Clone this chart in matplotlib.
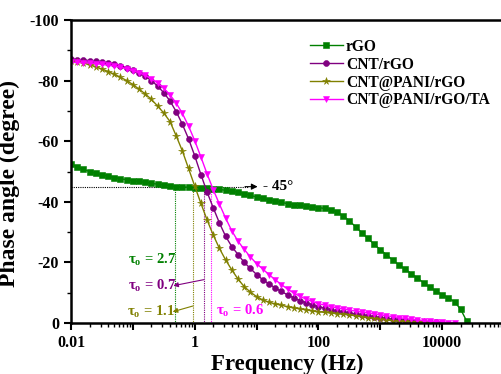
import numpy as np
import matplotlib
matplotlib.use("Agg")
import matplotlib.pyplot as plt
from matplotlib.ticker import LogLocator, FixedLocator, MultipleLocator, NullFormatter, FuncFormatter

plt.rcParams['font.family'] = ['Liberation Serif', 'DejaVu Serif']
plt.rcParams['font.weight'] = 'bold'
plt.rcParams['mathtext.fontset'] = 'custom'
plt.rcParams['mathtext.rm'] = 'Liberation Serif:bold'
plt.rcParams['mathtext.bf'] = 'Liberation Serif:bold'

# frequency sweep (Hz), 10 points per decade starting at 0.01 Hz
freq = np.logspace(-2, 4.4, 65)

rgo = [52.5, 51.5, 50.7, 50.0, 49.4, 48.9, 48.4, 48.0, 47.6, 47.3,
       47.0, 46.7, 46.4, 46.1, 45.8, 45.6, 45.3, 45.0, 44.9, 44.8,
       44.7, 44.6, 44.5, 44.3, 44.1, 43.8, 43.5, 43.1, 42.6, 42.1,
       41.6, 41.1, 40.6, 40.2, 39.8, 39.4, 39.1, 38.8, 38.5, 38.3,
       38.1, 37.8, 37.4, 36.6, 35.4, 33.7, 31.8, 29.8, 27.9, 26.0,
       24.2, 22.5, 20.8, 19.2, 17.8, 16.3, 14.8, 13.3, 11.8, 10.5,
       9.4, 8.3, 7.0, 4.5, 0.5]
cnt_rgo = [87.0, 86.9, 86.8, 86.6, 86.4, 86.1, 85.8, 85.4, 84.9, 84.3,
           83.5, 82.6, 81.4, 80.0, 78.2, 76.0, 73.3, 69.8, 65.6, 60.8,
           55.2, 49.0, 43.2, 38.0, 33.0, 28.6, 25.2, 22.6, 20.0, 18.0,
           16.0, 14.3, 12.9, 11.6, 10.4, 9.3, 8.3, 7.4, 6.7, 6.0,
           5.4, 4.9, 4.4, 4.0, 3.6, 3.3, 3.0, 2.7, 2.4, 2.1,
           1.8, 1.5, 1.3, 1.1, 0.9, 0.7, 0.5, 0.4, 0.3, 0.2, 0.1]
cnt_pani = [86.5, 86.2, 85.8, 85.3, 84.6, 83.8, 83.0, 82.1, 81.1, 80.0,
            78.7, 77.2, 75.6, 73.8, 71.6, 69.3, 66.5, 61.8, 56.8, 51.0,
            45.2, 39.5, 34.0, 29.0, 24.6, 20.8, 17.5, 14.5, 12.0, 10.2,
            8.7, 7.6, 6.9, 6.3, 5.9, 5.4, 5.0, 4.7, 4.4, 4.0,
            3.7, 3.5, 3.3, 3.1, 2.9, 2.7, 2.4, 2.1, 1.8, 1.5,
            1.2, 1.0, 0.8, 0.6, 0.5, 0.4, 0.3, 0.2, 0.1]
cnt_pani_ta = [86.0, 86.0, 85.9, 85.8, 85.6, 85.4, 85.1, 84.8, 84.4, 83.9,
               83.3, 82.6, 81.7, 80.6, 79.2, 77.5, 75.3, 72.6, 69.2, 65.0,
               60.2, 54.8, 49.2, 44.0, 39.2, 34.6, 30.4, 27.0, 24.3, 21.8,
               19.6, 17.8, 16.0, 14.3, 12.7, 11.2, 9.9, 8.8, 7.9, 7.1,
               6.4, 5.9, 5.4, 5.0, 4.6, 4.3, 3.9, 3.6, 3.3, 3.0,
               2.7, 2.4, 2.1, 1.8, 1.5, 1.2, 1.0, 0.8, 0.6, 0.4,
               0.3, 0.15, 0.05]

labels = ['rGO', 'CNT/rGO', 'CNT@PANI/rGO', 'CNT@PANI/rGO/TA']
colors = ['#008000', '#800080', '#808000', '#FF00FF']
markers = ['s', 'o', '*', 'v']
msizes = [3.8, 4.3, 5.5, 4.5]
series = [rgo, cnt_rgo, cnt_pani, cnt_pani_ta]

# -45 degree crossing frequencies (Hz) and time constants
cross_freq = [0.48, 1.4, 0.93, 1.86]
tau_text = ['2.7', '0.7', '1.1', '0.6']

fig = plt.figure(figsize=(5.02, 3.74), dpi=100)
ax = fig.add_axes([71/502, 51/374, 433/502, 303/374])

for vals, lab, c, m, ms in zip(series, labels, colors, markers, msizes):
    v = -np.array(vals)
    ax.plot(freq[:len(v)], v, color=c, marker=m, ms=ms, lw=1.0, label=lab,
            markeredgewidth=0.4, clip_on=True)

# dotted guide lines
ax.plot([0.01, 7.2], [-45, -45], ls=(0, (1, 1)), color='black', lw=0.8, zorder=1)
ax.annotate('', xy=(10.4, -45), xytext=(6.5, -45),
            arrowprops=dict(arrowstyle='-|>', color='black', lw=0.8,
                            mutation_scale=9, shrinkA=0, shrinkB=0))
ax.text(12.6, -45, '- 45°', fontsize=11, fontweight='bold', va='center', ha='left')

for f, c in zip(cross_freq, colors):
    ax.plot([f, f], [-45, 0], ls=(0, (1, 1)), color=c, lw=0.8, zorder=1)

tau_lbl = 'τ$_\\mathregular{o}$ = '
# rGO
ax.text(0.083, -21, tau_lbl + tau_text[0], color=colors[0],
        fontsize=10.5, fontweight='bold', va='center', ha='left')
# CNT/rGO
ax.text(0.083, -12.2, tau_lbl + tau_text[1], color=colors[1],
        fontsize=10.5, fontweight='bold', va='center', ha='left')
ax.annotate('', xy=(0.45, -12.3), xytext=(1.4, -14.3),
            arrowprops=dict(arrowstyle='-|>', color=colors[1], lw=0.8,
                            mutation_scale=7, shrinkA=0, shrinkB=0))
# CNT@PANI/rGO
ax.text(0.08, -3.6, tau_lbl + tau_text[2], color=colors[2],
        fontsize=10.5, fontweight='bold', va='center', ha='left')
ax.annotate('', xy=(0.44, -3.7), xytext=(0.93, -5.6),
            arrowprops=dict(arrowstyle='-|>', color=colors[2], lw=0.8,
                            mutation_scale=7, shrinkA=0, shrinkB=0))
# CNT@PANI/rGO/TA
ax.text(2.2, -4.0, tau_lbl + tau_text[3], color=colors[3],
        fontsize=10.5, fontweight='bold', va='center', ha='left')

ax.set_xscale('log')
ax.set_xlim(0.01, 1e5)
ax.set_ylim(0, -100)

ax.xaxis.set_major_locator(FixedLocator([0.01, 0.1, 1, 10, 100, 1000, 1e4, 1e5]))
lab_map = {0.01: '0.01', 1: '1', 100: '100', 1e4: '10000'}
ax.xaxis.set_major_formatter(FuncFormatter(
    lambda x, p: next((t for k, t in lab_map.items() if abs(x - k) / k < 1e-6), '')))
ax.xaxis.set_minor_locator(LogLocator(base=10, subs=np.arange(2, 10), numticks=20))
ax.xaxis.set_minor_formatter(NullFormatter())
ax.yaxis.set_major_locator(MultipleLocator(20))
ax.yaxis.set_minor_locator(MultipleLocator(10))
ax.yaxis.set_major_formatter(FuncFormatter(lambda y, p: f'{int(round(y))}'))

ax.tick_params(which='major', length=5, width=1.5, labelsize=11.5, direction='out')
ax.tick_params(which='minor', length=3, width=1.0, direction='out')
for s in ax.spines.values():
    s.set_linewidth(1.8)

ax.set_xlabel('Frequency (Hz)', fontsize=16.5, fontweight='bold', labelpad=2)
ax.set_ylabel('Phase angle (degree)', fontsize=17, fontweight='bold')
ax.yaxis.set_label_coords(-0.118, 0.46)

leg = ax.legend(loc='upper left', bbox_to_anchor=(0.552, 0.938), frameon=False,
                fontsize=11.2, handlelength=2.1, handletextpad=0.2,
                labelspacing=0.12, borderaxespad=0, borderpad=0)
for t in leg.get_texts():
    t.set_fontweight('bold')

fig.savefig('out.png', dpi=100)
